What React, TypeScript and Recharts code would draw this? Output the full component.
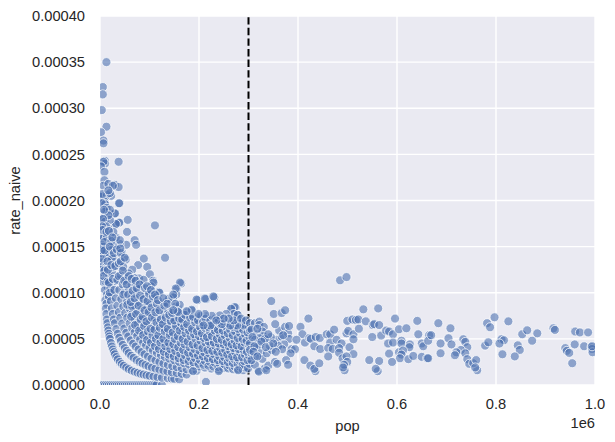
import React from 'react';
import {
  ScatterChart,
  Scatter,
  XAxis,
  YAxis,
  ZAxis,
  CartesianGrid,
  ReferenceLine,
} from 'recharts';

// all points are [pop in thousands, rate_naive in millionths]
type Pt = number[];

const POP_UNIT = 1000;
const RATE_UNIT = 1e-6;

const xTicks = [0, 200000, 400000, 600000, 800000, 1000000];
const yTicks = [0, 0.00005, 0.0001, 0.00015, 0.0002, 0.00025, 0.0003, 0.00035, 0.0004];
const cutoffPop = 300000;

const zeroRow: Pt[] = [
  [2, 0], [6, 0], [10, 0], [14, 0], [18, 0], [22, 0], [26, 0], [30, 0], [34, 0], [38, 0], [42, 0], [46, 0],
  [50, 0], [54, 0], [58, 0], [62, 0], [66, 0], [70, 0], [74, 0], [78, 0], [82, 0], [86, 0], [90, 0], [94, 0],
  [98, 0], [102, 0], [106, 0], [110, 0], [114, 0], [125, 0],
];

const upperLeft: Pt[] = [
  [13, 350], [5.7, 323], [5.7, 315], [3.6, 298], [13, 280], [2, 274], [7, 265], [7, 262], [10, 243], [10, 240],
  [7, 242], [2, 237], [37.6, 242], [9, 231], [9, 222], [7, 216], [17, 218], [30, 217], [37.6, 214.6], [26, 216],
  [6, 205], [1, 204], [22.6, 205], [14, 206], [9, 199], [39.6, 197], [10.4, 196], [3.6, 197], [13.8, 188],
  [30.8, 186], [20.6, 186], [39.6, 176], [56, 179], [111, 173], [33, 174], [54.6, 166], [70, 157], [73, 152],
  [53, 152], [39.6, 153], [131.4, 138], [88.6, 137], [77, 130], [95.4, 128], [65, 125], [100.8, 120], [79, 115.5],
  [107, 113], [164, 110], [155, 104], [154, 98], [148, 95], [119, 101], [214, 93], [197, 92], [231, 95],
  [274, 84], [265, 82], [279, 76], [272, 76], [157, 83], [5, 207], [20, 208], [17, 211], [38.5, 197], [13.5, 192],
  [10, 188], [30, 186], [20, 190], [38.5, 176], [32, 174.6], [17, 170], [7, 181], [7, 172], [10, 177], [20, 179],
  [17, 184], [32, 160], [40, 157], [17, 153.6], [10, 164], [20, 162.6], [7, 159], [44, 144], [34, 146.4], [17, 148],
  [7, 143], [27, 137], [52, 136], [10, 134], [37, 130], [20, 128],
];

const leftColumn: Pt[] = [
  [8, 190], [6, 180], [12, 172], [4, 172], [6, 160], [14, 160], [4, 152], [12, 148], [6, 150], [6, 142], [14, 138],
  [18, 140], [4, 133], [8, 130], [12, 128], [16, 128], [20, 130], [6, 122], [10, 120], [14, 118], [18, 118],
  [4, 125], [8, 113], [12, 108], [16, 106], [6, 112], [10, 103], [14, 98], [11, 92], [13, 88], [24, 122], [28, 112],
  [24, 138], [28, 150], [24, 100], [20, 112], [18, 96], [5, 168], [9, 155], [13, 144], [5, 137], [9, 124], [15, 134],
  [11, 112], [7, 118], [22, 146], [26, 128], [15, 112], [21, 105], [3, 146], [9, 146], [13, 166], [23, 156], [27, 166],
];

const arcOne: Pt[] = [
  [12, 83], [13, 77], [14, 71], [15, 67], [16, 62.5], [17, 59], [18, 55.5], [19, 52.6], [20, 50], [22, 45.5],
  [24, 41.7], [26, 38.5], [28, 35.7], [30, 33.3], [33, 30.3], [36, 27.8], [40, 25], [44, 22.7], [48, 20.8],
  [53, 18.9], [58, 17.2], [64, 15.6], [70, 14.3], [76, 13.2], [82, 12.2], [88, 11.4], [94, 10.6], [100, 10],
  [108, 9.3], [116, 8.6], [125, 8], [137, 7.3], [145, 6.9], [150, 6.7], [160, 6.25], [214, 3.4],
];

const arcTwo: Pt[] = [
  [16, 125], [18, 111], [20, 100], [22, 91], [24, 83], [26, 77], [28, 71], [30, 67], [33, 60.6], [36, 55.6],
  [39, 51.3], [42, 47.6], [46, 43.5], [50, 40], [54, 37], [58, 34.5], [63, 31.7], [68, 29.4], [74, 27], [80, 25],
  [86, 23.3], [92, 21.7], [98, 20.4], [105, 19], [112, 17.9], [120, 16.7], [128, 15.6], [136, 14.7], [145, 13.8],
  [155, 12.9], [165, 12.1], [175, 11.4],
];

const arcThree: Pt[] = [
  [18, 167], [20, 150], [23, 130], [26, 115], [29, 103], [32, 94], [35, 86], [38, 79], [41, 73], [45, 66.7],
  [49, 61.2], [53, 56.6], [57, 52.6], [62, 48.4], [67, 44.8], [72, 41.7], [78, 38.5], [84, 35.7], [90, 33.3],
  [97, 30.9], [104, 28.8], [112, 26.8], [120, 25], [128, 23.4], [137, 21.9], [146, 20.5], [155, 19.4], [165, 18.2],
  [175, 17.1], [185, 16.2], [195, 15.4],
];

const arcFour: Pt[] = [
  [25, 160], [28, 143], [31, 129], [35, 114], [39, 103], [43, 93], [47, 85], [51, 78], [55, 73], [60, 67],
  [65, 61.5], [70, 57], [75, 53], [81, 49.4], [87, 46], [93, 43], [100, 40], [107, 37.4], [115, 34.8], [123, 32.5],
  [131, 30.5], [140, 28.6], [150, 26.7], [160, 25], [170, 23.5], [180, 22.2], [190, 21], [200, 20], [212, 18.9],
  [225, 17.8], [240, 16.6],
];

const arcFive: Pt[] = [
  [34, 147], [38, 132], [42, 119], [46, 109], [50, 100], [55, 91], [60, 83], [65, 77], [70, 71], [76, 66], [82, 61],
  [88, 57], [95, 52.6], [102, 49], [110, 45.5], [118, 42.4], [126, 39.7], [135, 37], [145, 34.5], [155, 32.3],
  [165, 30.3], [175, 28.6], [185, 27], [196, 25.5], [208, 24], [220, 22.7], [232, 21.6], [245, 20.4], [258, 19.4],
];

const arcSix: Pt[] = [
  [42, 143], [47, 128], [52, 115], [58, 103], [64, 94], [70, 86], [76, 79], [83, 72], [90, 67], [97, 62], [105, 57],
  [113, 53], [122, 49], [131, 46], [141, 42.6], [151, 39.7], [162, 37], [173, 34.7], [185, 32.4], [197, 30.5],
  [210, 28.6], [224, 26.8], [238, 25.2], [252, 23.8], [266, 22.6], [280, 21.4], [295, 20.3],
];

const arcSeven: Pt[] = [
  [58, 121], [64, 109], [71, 99], [78, 90], [85, 82], [93, 75], [101, 69], [110, 64], [119, 59], [128, 55], [138, 51],
  [149, 47], [160, 44], [172, 40.7], [184, 38], [197, 35.5], [210, 33.3], [224, 31.3], [238, 29.4], [252, 27.8],
  [267, 26.2], [282, 24.8], [297, 23.6],
];

const arcEight: Pt[] = [
  [69, 116], [77, 104], [85, 94], [93, 86], [102, 78], [111, 72], [121, 66], [131, 61], [142, 56], [153, 52],
  [165, 48.5], [177, 45], [190, 42], [203, 39.4], [217, 36.9], [232, 34.5], [247, 32.4], [262, 30.5], [278, 28.8],
  [295, 27],
];

const arcNine: Pt[] = [
  [83, 108], [92, 98], [101, 89], [111, 81], [121, 74], [132, 68], [143, 63], [155, 58], [167, 54], [180, 50],
  [194, 46.4], [208, 43.3], [223, 40.4], [238, 37.8], [254, 35.4], [270, 33.3], [287, 31.4],
];

const arcTen: Pt[] = [
  [88, 114], [98, 102], [108, 92.6], [119, 84], [130, 77], [142, 70], [154, 65], [167, 60], [180, 55.6], [194, 51.5],
  [209, 47.8], [224, 44.6], [240, 41.7], [256, 39], [273, 36.6], [290, 34.5],
];

const upperArcs: Pt[] = [
  [103, 107], [114, 96.5], [126, 87], [138, 80], [151, 73], [164, 67], [178, 62], [192, 57], [207, 53], [222, 49.5],
  [238, 46], [255, 43], [272, 40.4], [290, 38], [108, 111], [120, 100], [133, 90], [146, 82], [160, 75], [174, 69],
  [189, 63.5], [204, 59], [220, 54.5], [236, 51], [253, 47.4], [270, 44.4], [288, 41.7], [139, 93.5], [153, 85],
  [168, 77], [183, 71], [199, 65], [215, 60.5], [232, 56], [249, 52], [267, 48.7], [285, 45.6], [161, 87], [177, 79],
  [194, 72], [211, 66], [229, 61], [247, 56.7], [266, 52.6], [285, 49], [186, 80.6], [204, 73.5], [223, 67], [242, 62],
  [262, 57], [282, 53], [215, 74.4], [235, 68], [256, 62.5], [277, 57.8], [298, 53.7],
];

// the crowded middle, where single dots overlap and only the rough spread can be read
const crowdedLow: Pt[] = [
  [38, 118], [42, 134], [41, 148], [47, 98], [49, 113], [46, 124], [50, 138], [55, 87], [57, 98], [54, 109], [58, 118],
  [63, 74], [65, 85], [62, 90], [66, 102], [64, 115], [71, 65], [73, 77], [70, 94], [74, 105], [72, 113], [79, 59],
  [82, 71], [78, 86], [81, 97], [80, 109], [87, 54], [89, 64], [86, 74], [90, 81], [88, 93], [91, 105], [95, 49],
  [97, 58], [94, 69], [98, 79], [96, 91], [99, 99], [95, 107], [103, 46], [106, 54], [102, 61], [105, 73], [104, 84],
  [107, 96], [103, 103], [111, 42], [113, 50], [110, 60], [114, 68], [112, 79], [115, 88], [111, 98], [119, 39],
  [122, 46], [118, 54], [121, 62], [123, 71], [120, 81], [117, 92], [129, 36], [132, 42], [128, 50], [131, 58],
  [127, 66], [133, 73], [130, 86], [128, 94], [139, 33], [142, 39], [138, 46], [141, 54], [137, 61], [143, 69],
  [140, 76], [136, 88], [149, 31], [152, 37], [148, 44], [151, 50], [147, 57], [153, 64], [150, 70], [146, 78],
  [152, 88],
];

const crowdedHigh: Pt[] = [
  [159, 29], [162, 34], [158, 41], [163, 46], [157, 53], [161, 59], [164, 67], [160, 72], [156, 80], [169, 27],
  [172, 32], [168, 38], [171, 44], [167, 50], [173, 56], [170, 63], [166, 71], [172, 76], [179, 26], [182, 30],
  [178, 35], [181, 41], [177, 47], [183, 53], [180, 59], [176, 66], [182, 73], [189, 24.5], [192, 29], [188, 34],
  [191, 39], [187, 44], [193, 50], [190, 55], [186, 61], [192, 68], [188, 74], [199, 23], [202, 27], [198, 32],
  [201, 37], [197, 43], [203, 48], [200, 53], [196, 58], [202, 63], [198, 70], [203, 75], [209, 22], [212, 26],
  [208, 31], [211, 35], [207, 40], [213, 46], [210, 51], [206, 56], [212, 62], [208, 68], [213, 72], [219, 21],
  [222, 25], [218, 29], [221, 34], [217, 38], [223, 43], [220, 47], [216, 52], [222, 58], [218, 63], [223, 70],
  [229, 20], [232, 24], [228, 28], [231, 33], [227, 37], [233, 42], [230, 46], [226, 53], [232, 59], [228, 65],
  [233, 72], [239, 19.5], [242, 23], [238, 27], [241, 31], [237, 36], [243, 40], [240, 45], [236, 50], [242, 55],
  [238, 60], [243, 66], [239, 71], [249, 18.5], [252, 22], [248, 26], [251, 30], [247, 35], [253, 38], [250, 44],
  [246, 49], [252, 54], [248, 59], [253, 64], [249, 69], [259, 18], [262, 21], [258, 25], [261, 29], [257, 33],
  [263, 37], [260, 42], [256, 46], [262, 51], [258, 56], [263, 60], [259, 67], [262, 71], [269, 17], [272, 20],
  [268, 24], [271, 28], [267, 31], [273, 36], [270, 40], [266, 44], [272, 48], [268, 54], [273, 58], [269, 63],
  [272, 68], [279, 17], [282, 20], [278, 23], [281, 27], [277, 30], [283, 35], [280, 39], [276, 43], [282, 47],
  [278, 51], [283, 56], [279, 61], [282, 66], [278, 72], [289, 16], [292, 19], [288, 22], [291, 26], [287, 30],
  [293, 33], [290, 38], [286, 42], [292, 46], [288, 50], [293, 55], [289, 60], [292, 66], [288, 70], [299, 18],
  [302, 23], [298, 27], [301, 32], [297, 36], [303, 40], [300, 44], [296, 48], [302, 52], [298, 57], [301, 62],
];

const upperBand: Pt[] = [
  [161.5, 111], [153, 104.6], [148, 98], [195, 92.6], [212, 93.7], [229, 96], [272, 84.5], [265, 82.7], [270, 77],
  [278, 76], [255, 77], [242, 75.4], [226, 75], [212, 77], [199, 77], [185, 81.6], [175, 80], [158, 79], [148, 81],
  [291, 64.5], [277, 64.5], [263, 64.5], [246, 66], [223, 64.5], [209, 64.5], [270, 70], [285, 72], [260, 72],
  [295, 70], [250, 72], [235, 70],
];

const nearCutoff: Pt[] = [
  [303, 67], [313, 67], [322, 68.7], [322, 65], [331, 63], [303, 59], [306, 60], [316.5, 55], [328, 58], [330, 53],
  [322, 50.7], [313, 49], [303, 45], [306, 34.4], [303, 38], [323, 43.4], [316.5, 41], [324.5, 34.4], [328, 28.3],
  [313, 30.8], [320, 15.6], [333, 18], [340, 21], [313, 22], [306, 27], [337, 34.4], [347, 38], [343, 42.4], [357, 49],
  [367, 52.5], [362, 59], [374, 63], [380, 56], [382, 50], [372, 44], [360, 42.4], [368, 38.8], [387, 38.8],
  [394, 38.8], [385, 34.4], [353.5, 25], [358, 23], [376, 27], [380, 22], [338, 49], [345, 52], [370, 54], [333, 50],
  [188, 15], [240, 15], [279, 16], [321, 14.5], [336, 16], [435, 15], [494, 16], [561, 15], [762, 16],
  [308, 52], [312, 42], [318, 61], [326, 47], [310, 36], [318, 31], [335, 41], [340, 55], [350, 45], [355, 36],
];

const midTail: Pt[] = [
  [346, 91], [351, 77], [367, 78], [374, 81], [354, 66], [382, 64], [405, 63], [409, 55], [397, 49], [414, 46],
  [421, 72], [423, 51], [426, 50], [436, 52], [433, 42], [444, 51], [458, 55], [465, 55], [473, 60], [445, 39],
  [465, 46], [478, 49], [488, 45], [461, 40], [470, 39], [483, 40], [483, 35], [461, 31], [504, 41], [512, 33.5],
  [413, 27], [425, 21], [433, 17.5], [443, 23.5], [490, 29], [498, 31], [499.5, 25], [493, 22], [491, 19], [485, 113.5],
  [498, 117], [499.5, 69.5], [510, 71], [517, 70.5], [522, 71], [537, 69], [532, 82], [562, 83], [596, 72], [641, 69.5],
  [498, 56], [501.5, 58.6], [512, 55], [512, 49.6], [523, 61], [551, 65], [554, 66], [564, 65], [568, 53.6], [550, 52],
  [578, 59], [584, 58], [592, 55], [604, 60.4], [619, 61.5], [643, 55], [665, 54], [582, 45], [592, 46], [609, 48],
  [609, 45], [626, 44], [625, 41], [650, 45], [653, 42], [663, 48], [584, 34], [604, 35.5], [612, 37.3], [609, 33],
  [606, 29], [623, 28], [633, 31.5], [650, 30.5], [661, 29], [544, 27], [564, 26], [590, 25], [557, 17.5],
];

const farTail: Pt[] = [
  [683.5, 67], [708, 61.5], [669, 54], [688, 45], [704, 50.7], [710, 44], [688, 34.4], [663, 29], [734, 49.6],
  [738, 46.7], [742, 41], [729, 38], [720, 35.5], [717, 32.3], [738, 34.4], [742, 28], [746, 23], [754, 23.6], [760, 27],
  [758, 19], [778, 42.7], [784.5, 46.3], [782, 67], [788, 62.6], [797, 73.4], [825, 69], [811, 49.6], [816, 48.5],
  [807, 45], [813, 33.3], [844, 43], [848, 38], [838, 31], [853, 55], [863, 59.3], [883.4, 56], [873, 48], [916, 61.5],
  [919, 59.7], [940, 40], [943, 37], [948, 34.8], [954, 23.6], [959, 44], [960, 58], [969.5, 57], [986, 57], [978, 42],
  [993, 41], [994, 39], [995, 35.5], [994, 42],
];

const allPoints = [
  ...zeroRow, ...upperLeft, ...leftColumn, ...arcOne, ...arcTwo, ...arcThree, ...arcFour, ...arcFive, ...arcSix,
  ...arcSeven, ...arcEight, ...arcNine, ...arcTen, ...upperArcs, ...crowdedLow, ...crowdedHigh, ...upperBand,
  ...nearCutoff, ...midTail, ...farTail,
];

const tableData = allPoints.map(([p, r]) => ({ pop: p * POP_UNIT, rate_naive: r * RATE_UNIT }));

const FONT = '"Liberation Sans", Arial, sans-serif';
const TEXT = '#262626';
const tickStyle = { fontFamily: FONT, fontSize: 14.67, fill: TEXT };

export default function App() {
  return (
    <div style={{ position: 'absolute', left: 0, top: 0, width: 615, height: 442 }}>
      <ScatterChart width={615} height={442} margin={{ top: 16, right: 20, bottom: 0, left: 0 }}>
        <CartesianGrid fill="#eaeaf2" stroke="#ffffff" strokeWidth={1.4} horizontalValues={yTicks} verticalValues={xTicks} />
        <XAxis
          type="number"
          dataKey="pop"
          domain={[0, 1000000]}
          ticks={xTicks}
          interval={0}
          allowDataOverflow
          axisLine={false}
          tickLine={false}
          tickMargin={8}
          height={57}
          tick={tickStyle}
          tickFormatter={(v: number) => (v / 1000000).toFixed(1)}
          label={{ value: 'pop', position: 'insideBottom', offset: 11, style: { ...tickStyle } }}
        />
        <YAxis
          type="number"
          dataKey="rate_naive"
          domain={[0, 0.0004]}
          ticks={yTicks}
          interval={0}
          allowDataOverflow
          axisLine={false}
          tickLine={false}
          tickMargin={9}
          width={100}
          tick={tickStyle}
          tickFormatter={(v: number) => v.toFixed(5)}
          label={{ value: 'rate_naive', angle: -90, position: 'insideLeft', offset: 15, style: { ...tickStyle, textAnchor: 'middle' } }}
        />
        <ZAxis range={[57, 57]} />
        <Scatter
          data={tableData}
          fill="#4c72b0"
          fillOpacity={0.6}
          stroke="#ffffff"
          strokeWidth={0.75}
          isAnimationActive={false}
        />
        <ReferenceLine x={cutoffPop} stroke="#000000" strokeWidth={2} strokeDasharray="7.4 3.2" />
        <text x={595} y={428} textAnchor="end" style={tickStyle}>1e6</text>
      </ScatterChart>
    </div>
  );
}
